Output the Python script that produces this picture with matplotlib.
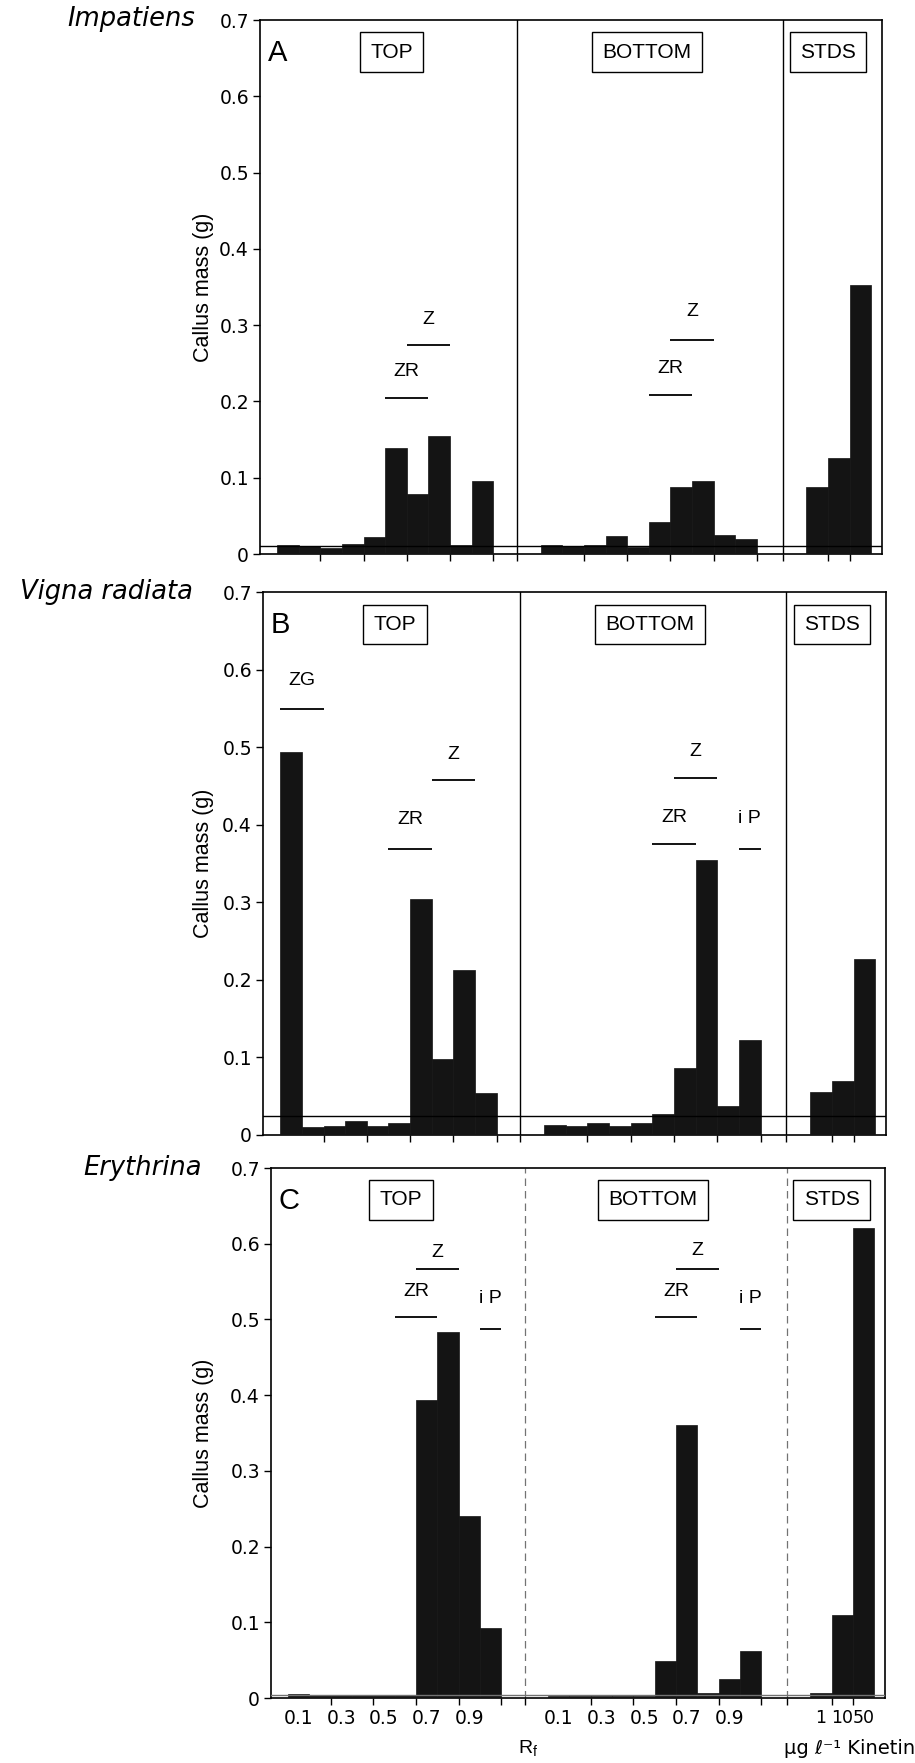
import matplotlib
matplotlib.use("Agg")
import matplotlib.pyplot as plt

plt.rcParams['font.family'] = ['Liberation Sans', 'DejaVu Sans']

# ---------------- data ----------------
rf_values = [0.1, 0.2, 0.3, 0.4, 0.5, 0.6, 0.7, 0.8, 0.9, 1.0]
rf_tick_values = [0.1, 0.3, 0.5, 0.7, 0.9]
rf_tick_labels = ["0.1", "0.3", "0.5", "0.7", "0.9"]
kinetin_labels = ["1", "10", "50"]
section_labels = ["TOP", "BOTTOM", "STDS"]
species = ["Impatiens", "Vigna radiata", "Erythrina"]
panel_letters = ["A", "B", "C"]
y_ticks = [0, 0.1, 0.2, 0.3, 0.4, 0.5, 0.6, 0.7]
y_tick_labels = ["0", "0.1", "0.2", "0.3", "0.4", "0.5", "0.6", "0.7"]

impatiens_top = [0.012, 0.011, 0.008, 0.013, 0.022, 0.139, 0.078, 0.155, 0.012, 0.096]
impatiens_bottom = [0.012, 0.010, 0.012, 0.024, 0.009, 0.042, 0.088, 0.096, 0.025, 0.020]
impatiens_stds = [0.088, 0.126, 0.352]

vigna_top = [0.494, 0.010, 0.012, 0.018, 0.011, 0.015, 0.304, 0.098, 0.213, 0.054]
vigna_bottom = [0.013, 0.012, 0.015, 0.011, 0.015, 0.027, 0.086, 0.355, 0.038, 0.122]
vigna_stds = [0.055, 0.069, 0.227]

erythrina_top = [0.005, 0.004, 0.004, 0.004, 0.004, 0.004, 0.393, 0.484, 0.241, 0.092]
erythrina_bottom = [0.002, 0.002, 0.002, 0.002, 0.002, 0.049, 0.361, 0.007, 0.025, 0.062]
erythrina_stds = [0.006, 0.110, 0.621]

control_levels = [0.010, 0.024, 0.004]

# (label, section, first Rf, last Rf, line height, text height)
impatiens_marks = [("ZR", "top", 0.6, 0.7, 0.205, 0.239), ("Z", "top", 0.7, 0.8, 0.274, 0.307),
                   ("ZR", "bottom", 0.6, 0.7, 0.209, 0.243), ("Z", "bottom", 0.7, 0.8, 0.280, 0.318)]
vigna_marks = [("ZG", "top", 0.1, 0.2, 0.549, 0.586), ("ZR", "top", 0.6, 0.7, 0.369, 0.407),
               ("Z", "top", 0.8, 0.9, 0.457, 0.490),
               ("ZR", "bottom", 0.6, 0.7, 0.375, 0.409), ("Z", "bottom", 0.7, 0.8, 0.460, 0.494),
               ("i P", "bottom", 1.0, 1.0, 0.369, 0.408)]
erythrina_marks = [("ZR", "top", 0.6, 0.7, 0.503, 0.537), ("Z", "top", 0.7, 0.8, 0.566, 0.589),
                   ("i P", "top", 1.0, 1.0, 0.488, 0.527),
                   ("ZR", "bottom", 0.6, 0.7, 0.503, 0.537), ("Z", "bottom", 0.7, 0.8, 0.566, 0.591),
                   ("i P", "bottom", 1.0, 1.0, 0.487, 0.527)]

panels = [
    (impatiens_top, impatiens_bottom, impatiens_stds, impatiens_marks),
    (vigna_top, vigna_bottom, vigna_stds, vigna_marks),
    (erythrina_top, erythrina_bottom, erythrina_stds, erythrina_marks),
]

# ---------------- layout ----------------
W, H, DPI = 915, 1763, 100
OFFSET = {"top": 0.3, "bottom": 12.5}
STD_X0 = 25.8
DIVIDERS = [11.9, 24.2]
XMAX = 28.8
BOX_X = [6.1, 17.9, 26.3]
axes_px = [(260, 20, 882, 554), (263, 592, 886, 1135), (271, 1168, 885, 1698)]
species_px = [(195, 19), (193, 592), (202, 1168)]
NUM_FONT = ["DejaVu Sans"]


def xpos(section, rf):
    return OFFSET[section] + rf * 10


fig = plt.figure(figsize=(W / DPI, H / DPI), dpi=DPI)
BAR = "#141414"

for i, (top, bottom, stds, marks) in enumerate(panels):
    l, t, r, b = axes_px[i]
    ax = fig.add_axes([l / W, 1 - b / H, (r - l) / W, (b - t) / H])
    ax.set_xlim(0, XMAX)
    ax.set_ylim(0, 0.7)

    ax.bar([xpos("top", v) for v in rf_values], top, width=1.0, color=BAR, edgecolor=BAR, lw=0.5, zorder=3)
    ax.bar([xpos("bottom", v) for v in rf_values], bottom, width=1.0, color=BAR, edgecolor=BAR, lw=0.5, zorder=3)
    ax.bar([STD_X0 + k for k in range(len(stds))], stds, width=1.0, color=BAR, edgecolor=BAR, lw=0.5, zorder=3)

    # control level line
    ax.axhline(control_levels[i], color="black" if i < 2 else "0.45", lw=1.0, zorder=4)

    # section dividers
    for d in DIVIDERS:
        if i < 2:
            ax.axvline(d, color="black", lw=1.0, zorder=2)
        else:
            ax.axvline(d, color="0.45", lw=0.9, ls=(0, (6, 4)), zorder=2)

    # section boxes
    for bx, lab in zip(BOX_X, section_labels):
        ax.text(bx, 0.658, lab, ha="center", va="center", fontsize=15,
                bbox=dict(boxstyle="square,pad=0.5", fc="white", ec="black", lw=1.0), zorder=5)

    ax.text(0.35, 0.657, panel_letters[i], ha="left", va="center", fontsize=21)

    # compound marks
    for lab, sec, r0, r1, ly, ty in marks:
        x0 = xpos(sec, r0) - 0.5
        x1 = xpos(sec, r1) + 0.5
        ax.plot([x0, x1], [ly, ly], color="black", lw=1.3, solid_capstyle="butt")
        ax.text((x0 + x1) / 2, ty, lab, ha="center", va="center", fontsize=14)

    ax.set_yticks(y_ticks)
    ax.set_yticklabels(y_tick_labels, fontsize=13.5, family=NUM_FONT)
    ax.tick_params(axis="y", direction="out", length=5, width=1, pad=3)

    # x ticks: labels at bin centres, small marks at bin edges
    edge_ticks = [xpos("top", v) + 0.5 for v in (0.2, 0.4, 0.6, 0.8, 1.0)] + \
                 [xpos("bottom", v) + 0.5 for v in (0.2, 0.4, 0.6, 0.8, 1.0)] + \
                 DIVIDERS + [STD_X0 + 0.5, STD_X0 + 1.5]
    ax.set_xticks(edge_ticks, minor=True)
    ax.tick_params(axis="x", which="minor", direction="out", length=5, width=1)
    if i == 2:
        major = [xpos("top", v) for v in rf_tick_values] + [xpos("bottom", v) for v in rf_tick_values] + \
                [STD_X0 + k for k in range(len(kinetin_labels))]
        ax.set_xticks(major)
        ax.set_xticklabels(rf_tick_labels + rf_tick_labels + kinetin_labels, fontsize=13.5, family=NUM_FONT)
        ax.tick_params(axis="x", which="major", length=0, pad=8)
        for lbl in ax.get_xticklabels()[-3:]:
            lbl.set_fontsize(12.5)
    else:
        ax.set_xticks([])

    for s in ax.spines.values():
        s.set_linewidth(1.2)
        s.set_color("black")

    ax.set_ylabel("Callus mass (g)", fontsize=15.5)
    ax.yaxis.set_label_coords((214 - l) / (r - l), 0.5)

    sx, sy = species_px[i]
    fig.text(sx / W, 1 - sy / H, species[i], ha="right", va="center", fontsize=18.5,
             style="italic", family=["DejaVu Sans"])

fig.text(528 / W, 1 - 1749 / H, "R$_\\mathregular{f}$", ha="center", va="center", fontsize=14)
fig.text(850 / W, 1 - 1749 / H, "μg ℓ⁻¹ Kinetin", ha="center", va="center", fontsize=14,
         family=["DejaVu Sans"])

fig.savefig("out.png", dpi=DPI, facecolor="white")
